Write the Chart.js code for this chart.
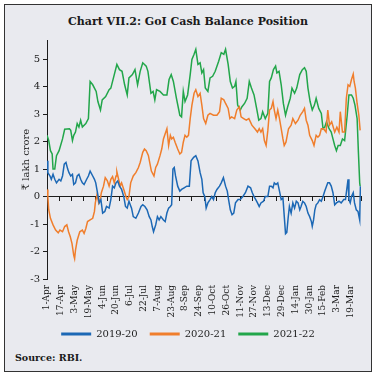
<!DOCTYPE html>
<html>
<head>
<meta charset="utf-8">
<script src="https://cdn.jsdelivr.net/npm/chart.js@4.4.1/dist/chart.umd.min.js"></script>
<style>
  html, body { margin: 0; padding: 0; background: #fff; }
  .frame {
    position: absolute; left: 4px; top: 4px; width: 366px; height: 366px;
    border: 1px solid #333; background: #e9eaef; overflow: hidden;
  }
  .title {
    position: absolute; left: 0; top: 10px; width: 100%; text-align: center;
    font: bold 11px "DejaVu Serif", serif; color: #1a1a1a; line-height: 14px;
  }
  .plot { position: absolute; left: 0; top: 25px; width: 366px; height: 319px; }
  .source {
    position: absolute; left: 10px; top: 347px;
    font: bold 9.5px "DejaVu Serif", serif; color: #1a1a1a;
  }
</style>
</head>
<body>
<div class="frame">
  <div class="title">Chart VII.2: GoI Cash Balance Position</div>
  <div class="plot"><canvas id="chart"></canvas></div>
  <div class="source">Source: RBI.</div>
</div>
<script>
// day index counted from 1-Apr (0) to 31-Mar (364)
const xTickLabels = ['1-Apr', '17-Apr', '3-May', '19-May', '4-Jun', '20-Jun', '6-Jul', '22-Jul', '7-Aug', '23-Aug',
  '8-Sep', '24-Sep', '10-Oct', '26-Oct', '11-Nov', '27-Nov', '13-Dec', '29-Dec', '14-Jan', '30-Jan', '15-Feb', '3-Mar', '19-Mar'];
const labelStep = 16;
const tickStep = 14;
const lastDay = 364;
const yTicks = [-3, -2, -1, 0, 1, 2, 3, 4, 5];

const days1920 = [0, 1, 3.5, 5, 7, 9, 11, 14, 16, 18, 20, 22, 24, 25.5, 27.5, 29.5, 31, 33, 35, 37, 39, 41, 43, 46, 48, 50, 53, 55, 56.5, 58.5,
  60.5, 62.5, 64.5, 67, 69, 72, 74, 76, 78, 80, 82, 84, 86.5, 89, 91, 93, 95, 98, 100, 103, 106, 109, 111, 113.5, 116, 118.5, 120.5, 122, 123.5, 126,
  128, 130, 132, 135, 137, 139, 141, 143, 144.5, 146, 147.5, 149, 151.5, 154, 156, 159, 162, 165, 167, 170, 172.5, 175, 177.5, 179.5, 181, 183, 184.5, 186.5, 189, 191,
  193, 195, 197, 200, 202, 204.5, 207, 209, 210.5, 212.5, 214.5, 216.5, 218.5, 221.5, 224, 227, 230, 233, 236, 238, 240, 242, 244, 246, 248, 251,
  253, 256, 258, 260, 262, 263.5, 265.5, 267.5, 269.5, 271.5, 273.5, 275.5, 276.5, 278, 279.5, 281, 283, 285, 287, 289, 291, 293, 294.5, 296.5, 298.5, 300.5,
  302.5, 304.5, 306.5, 307.5, 309, 310.5, 312, 314, 316, 318, 320, 322, 324, 325.5, 327.5, 329.5, 331.5, 333.5, 335.5, 338.5, 341, 344, 346, 347.5, 349, 350,
  351.5, 353, 355, 356.5, 358.5, 360.5, 362.5, 363.3];
const cash1920 = [1.30, 0.87, 0.75, 0.63, 0.81, 0.63, 0.50, 0.63, 0.57, 0.75, 1.18, 1.24, 1.00, 0.87, 0.75, 0.81, 0.44, 0.50, 0.75, 0.81, 0.63, 0.50, 0.44, 0.63, 0.75, 0.93, 0.75, 0.63, 0.50, 0.14,
  -0.23, -0.11, -0.60, -0.54, -0.36, -0.42, -0.11, 0.38, 0.32, 0.50, 0.57, 0.38, 0.26, 0.00, -0.36, -0.42, -0.17, -0.42, -0.73, -0.79, -0.60, -0.36, -0.30, -0.36, -0.48, -0.73, -0.85, -1.09, -1.28, -1.03,
  -0.73, -0.85, -0.73, -0.85, -0.91, -0.60, -0.42, -0.36, -0.30, 1.00, 1.06, 0.75, 0.38, 0.20, 0.26, 0.32, 0.38, 0.38, 1.30, 1.43, 1.49, 1.30, 0.87, 0.63, 0.14, 0.00, -0.42, -0.23, -0.11, 0.00,
  -0.11, 0.14, 0.26, 0.38, 0.50, 0.69, 0.38, 0.20, -0.11, -0.48, -0.66, -0.60, -0.23, -0.11, -0.11, 0.00, 0.14, 0.38, 0.32, 0.14, 0.00, -0.11, -0.23, -0.36, -0.23, -0.17,
  0.00, 0.00, 0.38, 0.38, 0.32, 0.50, 0.44, 0.50, 0.20, -0.11, -0.05, -0.91, -1.35, -1.30, -0.79, -0.36, -0.60, -0.23, -0.42, -0.17, -0.23, -0.48, -0.36, -0.17, -0.23, -0.36,
  -0.60, -0.73, -0.91, -1.08, -0.85, -0.48, -0.30, -0.23, -0.11, -0.17, 0.00, 0.20, 0.38, 0.50, 0.50, 0.38, 0.14, -0.30, -0.23, -0.17, -0.23, -0.11, -0.11, 0.26, 0.63, -0.11,
  -0.23, 0.00, 0.14, -0.23, -0.48, -0.54, -0.85, 0.38];

const days2021 = [0, 1, 2, 4, 7, 10, 13, 15, 18, 20.5, 23, 25, 27, 29, 31, 32, 33, 35, 38, 41, 43, 45, 47, 50, 53, 55, 56, 58, 60, 62,
  63, 65.5, 67.5, 70, 72, 74, 76, 78, 80, 81, 83, 85, 86.5, 89, 91.5, 93, 95, 97, 100, 103, 106, 108, 111, 113, 115, 117.5, 121, 124, 126, 128,
  131, 133, 135, 137, 139, 141, 143, 144.5, 146.5, 148.5, 151.5, 154, 156, 158, 160, 162, 164, 166, 168, 170.5, 172.5, 175, 177.5, 179.5, 181.5, 184, 186.5, 189, 193, 197,
  200, 202, 205, 207, 210, 212, 214, 217.5, 220, 223, 225, 228, 231, 234, 237.5, 241, 244, 246, 248, 250, 252, 254, 256, 258, 260, 262, 263.5, 265.5, 267.5, 269.5,
  271.5, 273.5, 275, 277, 280, 283, 285, 288, 291, 293.5, 296.5, 298.5, 300.5, 302.5, 304.5, 307.5, 309.5, 312, 314, 316, 318, 320.5, 323.5, 325.5, 327.5, 330, 333.5, 336, 338.5, 340,
  342.5, 345, 347, 349, 351, 353, 355, 356, 357.5, 359.5, 361.5, 363];
const cash2021 = [0.26, 0.00, -0.48, -0.79, -1.03, -1.22, -1.32, -1.22, -1.28, -1.09, -1.03, -1.28, -1.46, -1.71, -2.14, -2.26, -1.96, -1.59, -1.28, -1.22, -1.34, -1.16, -0.91, -0.85, -0.79, -0.54, -0.23, 0.07, -0.23, -0.05,
  0.14, 0.38, 0.69, 0.57, 0.38, 0.63, 0.73, 0.50, 0.75, 0.90, 0.63, 0.38, 0.50, 0.26, 0.00, -0.11, 0.00, 0.50, 0.75, 0.87, 1.06, 1.24, 1.61, 1.73, 1.67, 1.50, 0.93, 0.75, 1.06, 1.18,
  1.49, 1.73, 2.10, 2.29, 2.47, 1.86, 2.23, 2.10, 2.16, 1.98, 1.73, 1.55, 1.61, 1.98, 2.23, 2.16, 2.23, 2.84, 3.33, 3.76, 3.89, 3.64, 3.76, 3.33, 2.84, 2.66, 2.96, 3.03, 2.96, 2.96,
  3.09, 3.58, 3.52, 3.39, 3.21, 2.84, 2.90, 2.84, 3.15, 3.27, 2.90, 2.84, 2.78, 2.84, 2.60, 2.47, 2.35, 2.47, 2.35, 2.47, 2.04, 1.86, 2.41, 3.15, 3.21, 3.46, 3.15, 2.84, 3.15, 2.84,
  2.47, 2.10, 1.86, 1.98, 2.47, 2.60, 2.84, 2.66, 2.78, 2.96, 3.09, 3.21, 2.78, 2.60, 2.23, 2.04, 1.86, 2.23, 2.16, 2.23, 2.47, 2.47, 2.35, 3.15, 2.60, 2.72, 2.35, 2.53, 2.35, 3.09,
  2.35, 2.35, 3.58, 4.07, 4.01, 4.26, 4.46, 4.19, 3.95, 3.39, 2.96, 2.41];

const days2122 = [0, 2, 4, 6, 7, 9, 11, 14, 18, 20.5, 26, 27.5, 29.5, 31, 33, 35, 37, 39, 41, 45, 48, 50, 53, 57, 59, 62, 64, 68, 72, 74,
  78, 81, 84, 87, 90, 93, 95, 99, 102, 105, 108, 111, 115, 117, 120.5, 123, 125, 127, 131, 135, 139, 141.5, 144, 146.5, 150, 154, 156, 158, 160, 163,
  166, 168, 170.5, 172.5, 175, 177.5, 179.5, 181.5, 183.5, 186.5, 189, 192, 195, 199, 202, 205, 207, 210, 212.5, 215, 217.5, 219, 221, 224, 226, 229, 232, 234.5, 237, 240,
  243, 245.5, 248, 250, 253, 256, 258, 260, 262.5, 265, 266.5, 269, 271.5, 274, 276.5, 279, 282, 284, 287, 289.5, 293, 296, 298.5, 300.5, 302.5, 305, 307.5, 310, 312, 315,
  318, 320, 322, 324, 327, 329.5, 331.5, 333.5, 335.5, 337.5, 340, 342.5, 345, 348, 350, 353, 355, 357, 359.5, 361, 362.5, 363];
const cash2122 = [2.23, 2.04, 1.67, 1.55, 1.00, 1.00, 1.49, 1.67, 2.10, 2.45, 2.47, 2.41, 2.04, 2.23, 2.35, 2.66, 2.53, 2.78, 2.53, 2.66, 2.84, 4.19, 4.07, 3.83, 3.46, 3.15, 3.52, 3.64, 3.89, 3.95,
  4.44, 4.81, 4.62, 4.56, 4.07, 3.70, 4.32, 4.44, 4.62, 4.07, 4.56, 4.87, 4.75, 4.56, 3.76, 3.83, 3.52, 3.89, 3.83, 3.70, 3.70, 4.26, 4.44, 4.19, 3.58, 2.96, 2.90, 3.83, 3.46, 3.70,
  4.44, 4.99, 5.18, 5.36, 4.81, 4.87, 4.50, 4.62, 3.95, 3.83, 4.32, 4.38, 4.56, 4.93, 5.24, 5.18, 5.36, 4.81, 4.19, 3.95, 4.01, 4.19, 3.33, 3.15, 3.27, 3.39, 3.58, 4.19, 3.95, 3.70,
  3.21, 2.78, 2.84, 3.09, 2.84, 3.03, 4.19, 4.32, 4.62, 4.75, 4.50, 4.56, 4.07, 3.39, 2.96, 3.27, 3.58, 3.95, 3.76, 3.95, 4.44, 4.62, 4.69, 4.56, 3.95, 3.46, 3.15, 3.33, 3.58, 3.21,
  3.03, 2.47, 2.53, 2.72, 2.47, 2.35, 2.10, 1.86, 1.67, 1.86, 1.86, 2.10, 2.04, 2.96, 3.70, 3.70, 3.58, 3.33, 2.84, 1.61, 0.50, 0.38];

const INK = '#1c1c1c';
const COLORS = { fy1920: '#1c68b5', fy2021: '#f07e2c', fy2122: '#22a64a' };
const font9 = { family: 'DejaVu Serif', size: 9 };
const font10 = { family: 'DejaVu Serif', size: 10 };

function points(days, vals) {
  return days.map((d, i) => ({ x: d, y: vals[i] }));
}

function series(label, days, vals, color) {
  return {
    label,
    data: points(days, vals),
    borderColor: color,
    backgroundColor: color,
    borderWidth: 1.5,
    pointRadius: 0,
    tension: 0,
    xAxisID: 'x',
  };
}

// nudge the legend row a few px right, like the source
const legendShift = {
  id: 'legendShift',
  afterLayout(chart) {
    if (!chart.legend) return;
    chart.legend.left += 5;
    chart.legend.right += 5;
  },
};

const ctx = document.getElementById('chart').getContext('2d');
new Chart(ctx, {
  type: 'line',
  data: {
    datasets: [
      series('2019-20', days1920, cash1920, COLORS.fy1920),
      series('2020-21', days2021, cash2021, COLORS.fy2021),
      series('2021-22', days2122, cash2122, COLORS.fy2122),
    ],
  },
  plugins: [legendShift],
  options: {
    responsive: true,
    maintainAspectRatio: false,
    animation: false,
    layout: { padding: { top: 10, right: 10, left: 0, bottom: 0 } },
    plugins: {
      tooltip: { enabled: false },
      legend: {
        position: 'bottom',
        labels: {
          boxWidth: 30,
          boxHeight: 3,
          padding: 12,
          color: INK,
          font: font10,
          generateLabels: (chart) => Chart.defaults.plugins.legend.labels.generateLabels(chart)
            .map((item) => ({ ...item, lineWidth: 0, fillStyle: item.strokeStyle })),
        },
      },
    },
    scales: {
      x: {
        type: 'linear',
        position: 'bottom',
        min: 0,
        max: lastDay,
        grid: { display: false, drawTicks: false },
        border: { display: false },
        afterBuildTicks: (scale) => {
          scale.ticks = xTickLabels.map((_, i) => ({ value: i * labelStep }));
        },
        afterFit: (scale) => { scale.height = 38; },
        ticks: {
          autoSkip: false,
          minRotation: 90,
          maxRotation: 90,
          padding: 6,
          color: INK,
          font: font9,
          callback: (value) => xTickLabels[Math.round(value / labelStep)],
        },
      },
      xZero: {
        type: 'linear',
        axis: 'x',
        position: { y: 0 },
        min: 0,
        max: lastDay,
        grid: { drawOnChartArea: false, tickLength: 4, color: INK },
        border: { color: INK, width: 1 },
        afterBuildTicks: (scale) => {
          const ticks = [];
          for (let d = 0; d <= lastDay; d += tickStep) ticks.push({ value: d });
          scale.ticks = ticks;
        },
        ticks: { display: false },
      },
      y: {
        min: -3,
        max: 5.7,
        afterBuildTicks: (scale) => {
          scale.ticks = yTicks.map((v) => ({ value: v }));
        },
        afterFit: (scale) => { scale.width = 42; },
        grid: { drawOnChartArea: false, tickLength: 4, color: INK },
        border: { color: INK, width: 1 },
        ticks: { color: INK, font: font10, padding: 3 },
        title: { display: true, text: '₹ lakh crore', color: INK, font: font10, padding: { top: 15, bottom: 0 } },
      },
    },
  },
});
</script>
</body>
</html>
